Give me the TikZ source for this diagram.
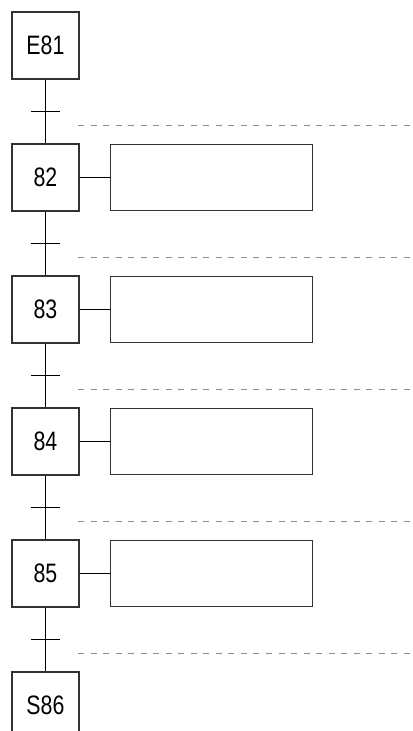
\documentclass[tikz,border=0pt]{standalone}
\usepackage{fontspec}
\setmainfont{Liberation Sans}[FakeStretch=0.8]
\usepackage{tikz}
\usetikzlibrary{positioning}

\begin{document}
\begin{tikzpicture}[
    node distance=47.85pt,
    etape/.style={rectangle, draw=black!80, line width=0.9pt, minimum width=50.25pt, minimum height=50.25pt, inner sep=0pt, font=\fontsize{20}{20}\selectfont},
    action/.style={rectangle, draw=black!80, line width=0.9pt, minimum width=151.5pt, minimum height=49.5pt, inner sep=0pt},
    liaison/.style={draw=black, line width=0.8pt},
    receptivite/.style={draw=black!45, line width=0.9pt, dash pattern=on 4.5pt off 4.9pt}
]
\useasboundingbox (0,0) rectangle (309.75pt,-548.25pt);

% Steps
\node[etape] (e81) at (34.1pt,-34.1pt) {E81};
\node[etape, below=of e81] (e82) {82};
\node[etape, below=of e82] (e83) {83};
\node[etape, below=of e83] (e84) {84};
\node[etape, below=of e84] (e85) {85};
\node[etape, below=of e85] (s86) {S86};

% Actions
\node[action, right=22.8pt of e82] (a82) {};
\node[action, right=22.8pt of e83] (a83) {};
\node[action, right=22.8pt of e84] (a84) {};
\node[action, right=22.8pt of e85] (a85) {};
\foreach \n in {82,83,84,85}
    \draw[liaison] (e\n) -- (a\n);

% Links and transitions
\draw[liaison] (e81) -- (e82) -- (e83) -- (e84) -- (e85) -- (s86);
\coordinate[below=23.9pt of e81] (t1);
\coordinate[below=23.9pt of e82] (t2);
\coordinate[below=23.9pt of e83] (t3);
\coordinate[below=23.9pt of e84] (t4);
\coordinate[below=23.9pt of e85] (t5);
\foreach \t in {t1,t2,t3,t4,t5} {
    \draw[liaison] ([xshift=-10.9pt]\t) -- ([xshift=10.9pt]\t);
    \draw[receptivite] ([xshift=24.4pt,yshift=-10.5pt]\t) -- ([yshift=-10.5pt]\t -| 309.75pt,0);
}

\end{tikzpicture}
\end{document}
